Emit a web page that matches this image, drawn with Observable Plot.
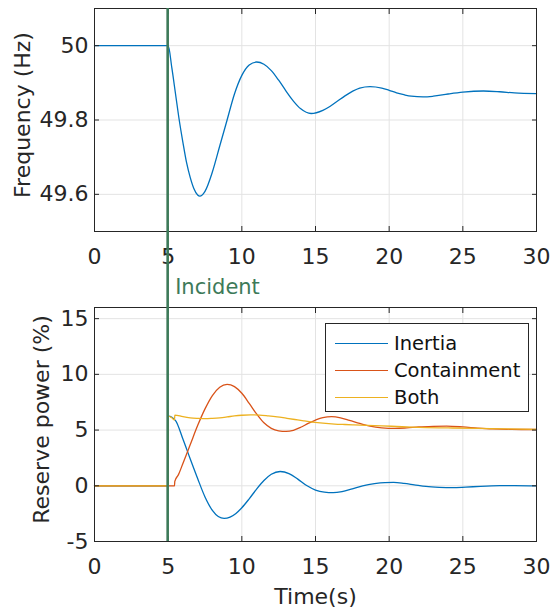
<!DOCTYPE html>
<html>
<head>
<meta charset="utf-8">
<script src="https://cdn.jsdelivr.net/npm/d3@7"></script>
<script src="https://cdn.jsdelivr.net/npm/@observablehq/plot@0.6"></script>
<style>
  body { margin: 0; background: #fff; }
  #chart { position: relative; width: 552px; height: 612px; font-family: "DejaVu Sans", sans-serif; }
  #top { position: absolute; left: 0; top: 0; }
  #bottom { position: absolute; left: 0; top: 300px; }
  #legend { position: absolute; left: 325px; top: 323px; width: 204px; height: 89px; box-sizing: border-box;
            border: 1px solid #262626; background: #fff; font-size: 19.5px; color: #111; }
  .row { position: absolute; left: 0; height: 24px; display: flex; align-items: center; }
  .sw { display: inline-block; width: 53px; height: 0; border-top: 1.4px solid; margin-left: 9px; margin-right: 6px; }
</style>
</head>
<body>
<div id="chart"><div id="top"></div><div id="bottom"></div><div id="legend"></div></div>
<script>
// ---------- data ----------
const incidentT = 5;
const xTicks = [0, 5, 10, 15, 20, 25, 30];
const freqTicks = [49.6, 49.8, 50];
const powerTicks = [-5, 0, 5, 10, 15];

const freqT  = [0, 5, 5.25, 5.5, 5.75, 6.0, 6.25, 6.5, 6.75, 7.0, 7.15, 7.5, 8.0, 8.5, 9.0, 9.5, 10.0, 10.5, 11.0,
                11.5, 12.0, 12.5, 13.0, 13.5, 14.0, 14.7, 15.5, 16.0, 16.5, 17.0, 17.5, 18.0, 18.7, 19.5, 20.0,
                20.5, 21.0, 21.5, 22.3, 23.0, 24.0, 25.0, 26.4, 27.5, 28.5, 30];
const freqHz = [50, 50, 49.94, 49.87, 49.80, 49.74, 49.685, 49.645, 49.615, 49.598, 49.595, 49.608, 49.660, 49.730,
                49.800, 49.870, 49.920, 49.948, 49.956, 49.950, 49.933, 49.907, 49.878, 49.851, 49.830, 49.8175,
                49.826, 49.837, 49.851, 49.865, 49.877, 49.886, 49.890, 49.886, 49.880, 49.873, 49.868, 49.864,
                49.862, 49.864, 49.870, 49.875, 49.878, 49.876, 49.873, 49.871];

const inertiaT = [0, 5, 5.01, 5.5, 6.0, 6.5, 7.0, 7.5, 8.0, 8.4, 8.8, 9.2, 9.6, 10.0, 10.5, 11.0, 11.5, 12.0, 12.6,
                  13.2, 13.8, 14.4, 15.0, 15.6, 16.2, 16.8, 17.5, 18.2, 19.0, 19.7, 20.3, 21.0, 21.7, 22.5, 23.4,
                  24.3, 25.2, 26.2, 27.5, 28.5, 30];
const inertia  = [0, 0, 6.25, 5.85, 4.2, 2.4, 0.65, -1.0, -2.2, -2.75, -2.92, -2.81, -2.48, -1.97, -1.17, -0.30,
                  0.47, 1.03, 1.28, 1.1, 0.6, 0.02, -0.38, -0.57, -0.62, -0.52, -0.27, 0.0, 0.2, 0.29, 0.3, 0.22,
                  0.09, -0.06, -0.14, -0.17, -0.12, -0.05, 0.01, 0.02, 0.0];

const containT = [0, 5.43, 5.45, 5.7, 6.0, 6.5, 7.0, 7.5, 8.0, 8.5, 9.0, 9.5, 10.0, 10.5, 11.0, 11.5, 12.0, 12.5,
                  13.0, 13.5, 14.0, 14.5, 15.0, 15.5, 16.1, 16.7, 17.3, 18.0, 18.7, 19.5, 20.4, 21.2, 22.0, 23.0,
                  23.9, 25.0, 26.0, 27.0, 28.0, 29.0, 30];
const contain  = [0, 0, 0.4, 1.0, 2.0, 3.7, 5.4, 6.9, 8.1, 8.85, 9.1, 8.9, 8.3, 7.4, 6.45, 5.65, 5.15, 4.93,
                  4.88, 4.98, 5.25, 5.6, 5.9, 6.12, 6.2, 6.1, 5.88, 5.6, 5.35, 5.2, 5.15, 5.2, 5.28, 5.33,
                  5.35, 5.28, 5.18, 5.1, 5.06, 5.05, 5.05];

const bothT = [0, 5, 5.01, 5.25, 5.43, 5.45, 6.0, 6.5, 7.0, 7.5, 8.0, 8.5, 9.0, 9.5, 10.0, 10.6, 11.2, 11.8, 12.4,
               13.0, 13.6, 14.2, 14.8, 15.5, 16.3, 17.0, 17.6, 18.5, 19.5, 20.5, 21.5, 22.5, 24.0, 26.0, 28.0, 30];
const both  = [0, 0, 6.25, 6.1, 5.9, 6.35, 6.2, 6.1, 6.05, 6.02, 6.05, 6.1, 6.18, 6.27, 6.33, 6.36, 6.35, 6.28,
               6.19, 6.07, 5.95, 5.83, 5.72, 5.62, 5.54, 5.5, 5.47, 5.43, 5.38, 5.32, 5.26, 5.22, 5.19, 5.15,
               5.1, 5.07];

const seriesNames = ["Inertia", "Containment", "Both"];
const seriesColors = ["#0072BD", "#D95319", "#EDB120"];

// ---------- styling ----------
const axisColor = "#262626";
const gridColor = "#e3e3e3";
const green = "#3d7a59";
const fmt = d => String(+d.toFixed(1));
const pts = (ts, vs) => ts.map((t, i) => ({t, v: vs[i]}));

function gridMarks(yTicks) {
  return [
    Plot.gridX(xTicks, {stroke: gridColor, strokeOpacity: 1}),
    Plot.gridY(yTicks, {stroke: gridColor, strokeOpacity: 1}),
  ];
}
function axisMarks(yTicks) {
  return [
    Plot.frame({stroke: axisColor}),
    Plot.axisX(xTicks, {anchor: "bottom", tickSize: -5, tickPadding: 22, fontSize: 22, color: axisColor, label: null, tickFormat: fmt}),
    Plot.axisX(xTicks, {anchor: "top", tickSize: -5, color: axisColor, label: null, tickFormat: () => ""}),
    Plot.axisY(yTicks, {anchor: "left", tickSize: -5, tickPadding: 11, fontSize: 22, color: axisColor, label: null, tickFormat: fmt}),
    Plot.axisY(yTicks, {anchor: "right", tickSize: -5, color: axisColor, label: null, tickFormat: () => ""})
  ];
}
const incidentRule = (fromFrame, toFrame) => (index, scales, values, dims) => {
  const x = scales.x(incidentT);
  return d3.create("svg:line")
    .attr("x1", x).attr("x2", x)
    .attr("y1", fromFrame ? dims.marginTop : 0)
    .attr("y2", toFrame ? dims.height - dims.marginBottom : dims.height)
    .attr("stroke", green).attr("stroke-width", 2.6).node();
};

const common = {
  width: 552, marginLeft: 94, marginRight: 16,
  style: {fontFamily: "DejaVu Sans, sans-serif", fontSize: "22px", background: "transparent", overflow: "visible", color: axisColor},
  x: {domain: [0, 30]}
};

// ---------- top: frequency ----------
const topPlot = Plot.plot({
  ...common,
  height: 300, marginTop: 8, marginBottom: 69,
  y: {domain: [49.5, 50.1]},
  marks: [
    ...gridMarks(freqTicks),
    Plot.line(pts(freqT, freqHz), {x: "t", y: "v", stroke: seriesColors[0], strokeWidth: 1.3, curve: "monotone-x"}),
    ...axisMarks(freqTicks),
    Plot.text(["Frequency (Hz)"], {text: d => d, frameAnchor: "left", textAnchor: "middle", lineAnchor: "middle",
      dx: -72, dy: -5, rotate: -90, fontSize: 22, fill: axisColor}),
    Plot.text([incidentT], {x: d => d, text: () => "Incident", frameAnchor: "bottom", lineAnchor: "middle",
      dx: 7, dy: 56, textAnchor: "start", fontSize: 21, fill: green}),
    incidentRule(true, false)
  ]
});
document.getElementById("top").append(topPlot);

// ---------- bottom: reserve power ----------
const bottomPlot = Plot.plot({
  ...common,
  height: 312, marginTop: 7, marginBottom: 71,
  y: {domain: [-5, 16]},
  marks: [
    ...gridMarks(powerTicks),
    Plot.line(pts(inertiaT, inertia), {x: "t", y: "v", stroke: seriesColors[0], strokeWidth: 1.3, curve: "monotone-x"}),
    Plot.line(pts(containT, contain), {x: "t", y: "v", stroke: seriesColors[1], strokeWidth: 1.3, curve: "monotone-x"}),
    Plot.line(pts(bothT, both), {x: "t", y: "v", stroke: seriesColors[2], strokeWidth: 1.3, curve: "monotone-x"}),
    ...axisMarks(powerTicks),
    Plot.text(["Reserve power (%)"], {text: d => d, frameAnchor: "left", textAnchor: "middle", lineAnchor: "middle",
      dx: -53, dy: -5, rotate: -90, fontSize: 22, fill: axisColor}),
    Plot.text(["Time(s)"], {text: d => d, frameAnchor: "bottom", lineAnchor: "middle", textAnchor: "middle",
      dy: 55, fontSize: 22, fill: axisColor}),
    incidentRule(false, true)
  ]
});
document.getElementById("bottom").append(bottomPlot);

// ---------- legend ----------
const legend = document.getElementById("legend");
seriesNames.forEach((name, i) => {
  const row = document.createElement("div");
  row.className = "row";
  row.style.top = (7 + i * 27) + "px";
  const sw = document.createElement("span");
  sw.className = "sw";
  sw.style.borderTopColor = seriesColors[i];
  const label = document.createElement("span");
  label.textContent = name;
  row.append(sw, label);
  legend.append(row);
});
</script>
</body>
</html>
